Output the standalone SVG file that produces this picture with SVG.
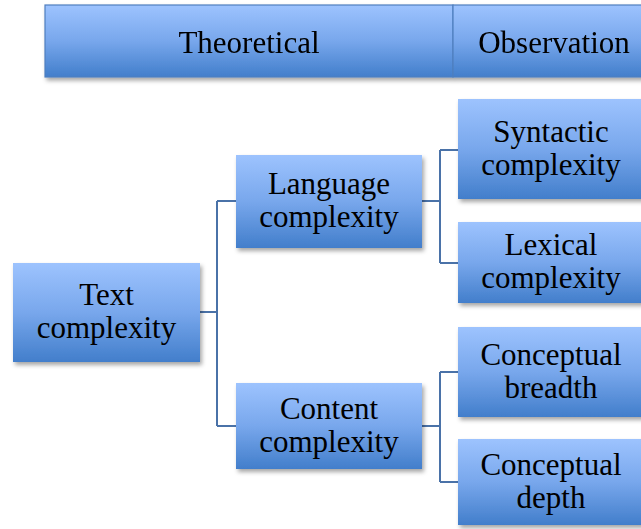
<svg xmlns="http://www.w3.org/2000/svg" width="641" height="529" viewBox="0 0 641 529">
<style>
.box{fill:url(#g);filter:url(#sh)}
.hdr{fill:url(#g);stroke:#4f7fbf;stroke-width:1.2}
.t{font-family:"Liberation Serif","Times New Roman",serif;font-size:31px;fill:#000;text-anchor:middle}
.c{fill:none;stroke:#4a72a8;stroke-width:2}
</style>
<defs>
<linearGradient id="g" x1="0" y1="0" x2="0" y2="1">
<stop offset="0" stop-color="#9dc3fe"/>
<stop offset="0.5" stop-color="#78a7ec"/>
<stop offset="1" stop-color="#427ecb"/>
</linearGradient>
<filter id="sh" x="-10%" y="-10%" width="130%" height="140%">
<feDropShadow dx="2" dy="3" stdDeviation="2" flood-color="#000" flood-opacity="0.35"/>
</filter>
</defs>
<rect width="641" height="529" fill="#fff"/>
<g id="header" filter="url(#sh)">
<rect class="hdr" x="45" y="5" width="408" height="72"/>
<rect class="hdr" x="453" y="5" width="202" height="72"/>
<text class="t" x="249" y="53">Theoretical</text>
<text class="t" x="554" y="53">Observation</text>
</g>
<g id="connectors">
<path class="c" d="M200 312H217M217 201V426M217 201H236M217 426H236"/>
<path class="c" d="M422 201H440M440 150V263M440 150H458M440 263H458"/>
<path class="c" d="M422 426H440M440 372V482M440 372H458M440 482H458"/>
</g>
<g id="text-complexity">
<rect class="box" x="13" y="263" width="187" height="99"/>
<text class="t" x="106.5" y="305">Text</text>
<text class="t" x="106.5" y="338">complexity</text>
</g>
<g id="language-complexity">
<rect class="box" x="236" y="155" width="186" height="93"/>
<text class="t" x="329" y="194">Language</text>
<text class="t" x="329" y="227">complexity</text>
</g>
<g id="content-complexity">
<rect class="box" x="236" y="383" width="186" height="86"/>
<text class="t" x="329" y="418.5">Content</text>
<text class="t" x="329" y="451.5">complexity</text>
</g>
<g id="syntactic-complexity">
<rect class="box" x="458" y="99" width="188" height="100"/>
<text class="t" x="551" y="142">Syntactic</text>
<text class="t" x="551" y="175">complexity</text>
</g>
<g id="lexical-complexity">
<rect class="box" x="458" y="222" width="188" height="81"/>
<text class="t" x="551" y="255">Lexical</text>
<text class="t" x="551" y="288">complexity</text>
</g>
<g id="conceptual-breadth">
<rect class="box" x="458" y="327" width="188" height="90"/>
<text class="t" x="551" y="364.5">Conceptual</text>
<text class="t" x="551" y="397.5">breadth</text>
</g>
<g id="conceptual-depth">
<rect class="box" x="458" y="439" width="188" height="86"/>
<text class="t" x="551" y="474.5">Conceptual</text>
<text class="t" x="551" y="507.5">depth</text>
</g>
</svg>
